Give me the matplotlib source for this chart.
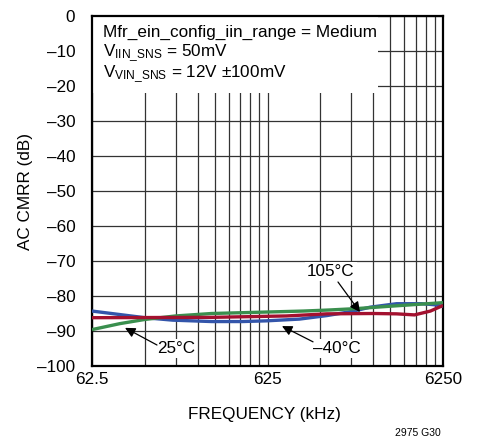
import matplotlib
matplotlib.use("Agg")
import matplotlib.pyplot as plt
from matplotlib.patches import Rectangle
from matplotlib.ticker import FixedLocator, FixedFormatter, NullFormatter

FONT = 'Liberation Sans'
plt.rcParams['font.family'] = [FONT, 'DejaVu Sans']
plt.rcParams['mathtext.fontset'] = 'custom'
plt.rcParams['mathtext.rm'] = FONT
plt.rcParams['mathtext.it'] = FONT
plt.rcParams['mathtext.bf'] = FONT

# ---- data ----
freq_m40 = [62.5, 90, 125, 180, 300, 450, 615, 950, 1360, 1900, 2400, 3400, 4700, 5600, 6250]
cmrr_m40 = [-84.3, -85.3, -86.2, -86.9, -87.3, -87.3, -87.1, -86.6, -85.6, -84.4, -83.2, -82.2, -82.2, -82.5, -83.0]
freq_25 = [62.5, 90, 125, 187, 300, 600, 1000, 1400, 2000, 3400, 6250]
cmrr_25 = [-89.6, -87.9, -86.7, -85.7, -85.0, -84.6, -84.3, -84.0, -83.6, -82.8, -81.9]
freq_105 = [62.5, 300, 800, 1360, 2500, 3400, 4300, 5300, 6250]
cmrr_105 = [-86.2, -86.1, -85.7, -85.1, -85.0, -85.1, -85.4, -84.3, -82.7]

x_ticks = [62.5, 625, 6250]
x_tick_labels = ['62.5', '625', '6250']
y_ticks = [0, -10, -20, -30, -40, -50, -60, -70, -80, -90, -100]
y_tick_labels = ['0', '–10', '–20', '–30', '–40', '–50', '–60', '–70', '–80', '–90', '–100']
x_minor = [62.5 * k for k in range(2, 10)] + [625 * k for k in range(2, 10)]

FS = 12.3

fig = plt.figure(figsize=(4.79, 4.38), dpi=100)
ax = fig.add_axes([92/479, 1 - 366/438, 351/479, 350/438])

ax.set_xscale('log')
ax.set_xlim(62.5, 6250)
ax.set_ylim(-100, 0)
ax.xaxis.set_major_locator(FixedLocator(x_ticks))
ax.xaxis.set_major_formatter(FixedFormatter(x_tick_labels))
ax.xaxis.set_minor_locator(FixedLocator(x_minor))
ax.xaxis.set_minor_formatter(NullFormatter())
ax.yaxis.set_major_locator(FixedLocator(y_ticks))
ax.yaxis.set_major_formatter(FixedFormatter(y_tick_labels))
ax.tick_params(which='both', length=0)
ax.tick_params(axis='x', labelsize=FS, pad=4)
ax.tick_params(axis='y', labelsize=FS, pad=12)

ax.set_axisbelow(True)
ax.grid(True, which='both', color='#333333', lw=0.9)
for s in ax.spines.values():
    s.set_linewidth(1.6)

ax.add_patch(Rectangle((0, 1 - 77/350), 286/351, 77/350, transform=ax.transAxes,
                       facecolor='white', edgecolor='none', zorder=1))

ax.plot(freq_m40, cmrr_m40, color='#3355aa', lw=2.4, zorder=3, solid_capstyle='butt')
ax.plot(freq_25, cmrr_25, color='#3a8f4e', lw=2.4, zorder=3, solid_capstyle='butt')
ax.plot(freq_105, cmrr_105, color='#a3112f', lw=2.4, zorder=4, solid_capstyle='butt')

tx = dict(fontsize=FS, ha='left', va='center', transform=ax.transAxes, zorder=5)
ax.text(11/351, 1 - 16.5/350, 'Mfr_ein_config_iin_range = Medium', **tx)
ax.text(11/351, 1 - 37.5/350, r'V$_{\mathrm{IIN\_SNS}}$ = 50mV', **tx)
ax.text(11/351, 1 - 58.5/350, r'V$_{\mathrm{VIN\_SNS}}$ = 12V ±100mV', **tx)

bb = dict(facecolor='white', edgecolor='none', pad=1.5)
ap = dict(arrowstyle='-|>', color='black', lw=0.9, mutation_scale=15, shrinkA=0, shrinkB=0)
ax.text(1438, -72.9, '105°C', fontsize=FS, ha='center', va='center', bbox=bb, zorder=5)
ax.annotate('', xy=(2103, -84.6), xytext=(1576, -76.0), arrowprops=ap, zorder=6)
ax.text(188, -94.9, '25°C', fontsize=FS, ha='center', va='center', bbox=bb, zorder=5)
ax.annotate('', xy=(96.4, -89.1), xytext=(146.6, -94.0), arrowprops=ap, zorder=6)
ax.text(1556, -94.9, '–40°C', fontsize=FS, ha='center', va='center', bbox=bb, zorder=5)
ax.annotate('', xy=(756, -88.6), xytext=(1136, -93.1), arrowprops=ap, zorder=6)

ax.set_xlabel('FREQUENCY (kHz)', fontsize=FS)
ax.xaxis.set_label_coords(0.49, -0.118)
ax.set_ylabel('AC CMRR (dB)', fontsize=FS)
ax.yaxis.set_label_coords(-0.168, 0.5)

fig.text(418/479, 1 - 433/438, '2975 G30', fontsize=7.5, ha='center', va='center')

fig.savefig('out.png', dpi=100)
